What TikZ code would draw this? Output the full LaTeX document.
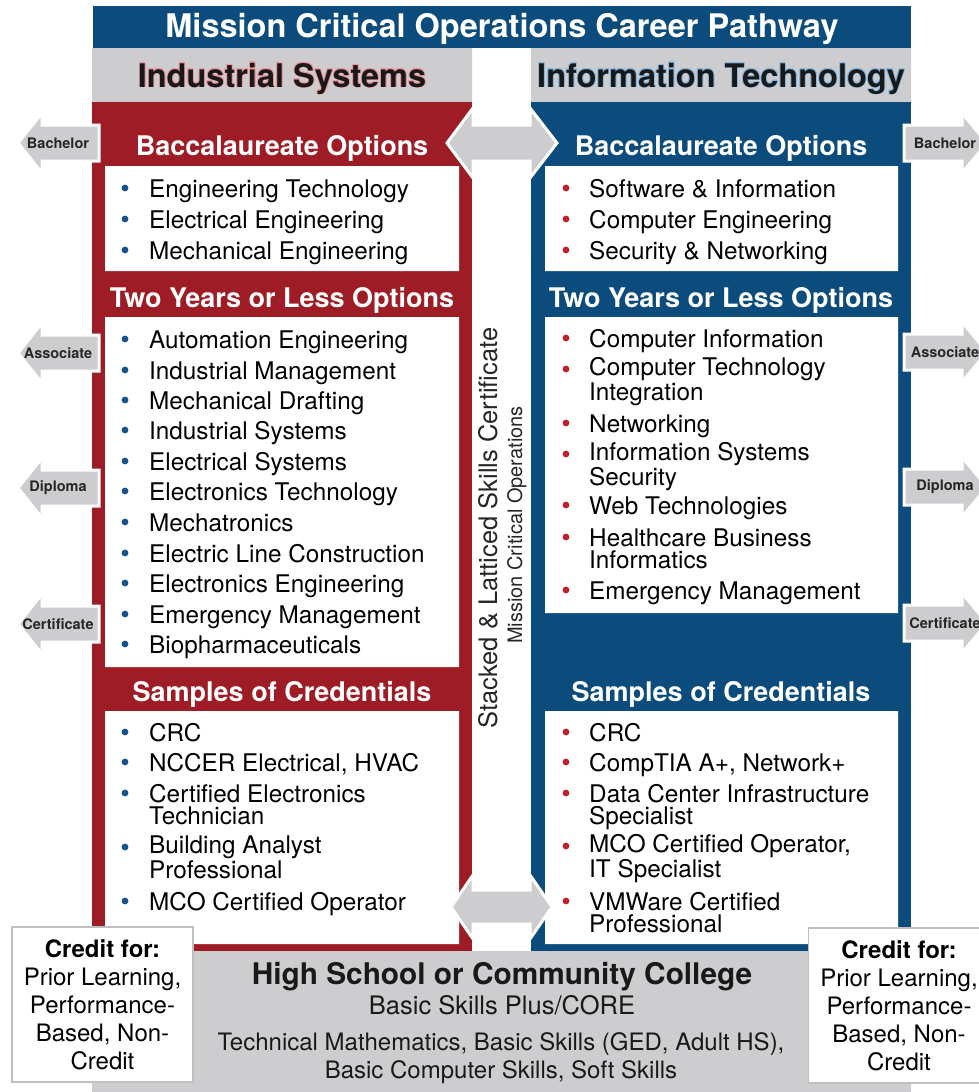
\documentclass[tikz,border=0pt]{standalone}
\usepackage{fontspec}
\setmainfont{TeX Gyre Heros}
\usepackage[copies]{contour}
\contourlength{0.8pt}
\definecolor{mcored}{RGB}{158,28,38}
\definecolor{mcoblue}{RGB}{11,76,124}
\definecolor{mcogray}{RGB}{205,205,208}
\definecolor{dotblue}{RGB}{20,82,140}
\definecolor{dotred}{RGB}{192,32,44}
\definecolor{glowred}{RGB}{236,150,158}
\definecolor{glowblue}{RGB}{135,185,225}
\def\titlebar{(93,6) rectangle (911,48)}
\def\headL{(92,48) rectangle (472,102)}
\def\headR{(531,48) rectangle (911,102)}
\def\panelL{(92,102) rectangle (472,951)}
\def\panelR{(531,102) rectangle (911,951)}
\def\boxLa{(105,166) rectangle (459,271)}
\def\boxLb{(105,317) rectangle (459,667)}
\def\boxLc{(105,711) rectangle (459,944)}
\def\boxRa{(545,166) rectangle (898,271)}
\def\boxRb{(545,317) rectangle (898,613)}
\def\boxRc{(545,711) rectangle (898,944)}
\def\basebox{(92,951) rectangle (911,1092)}
% one-line items: name, baseline, text
\newcommand{\itemL}[3]{\fill[dotblue] (125,#2-9) circle (3.4); \node[listitem] (#1) at (149,#2) {#3};}
\newcommand{\itemR}[3]{\fill[dotred] (566,#2-9) circle (3.4); \node[listitem] (#1) at (589,#2) {#3};}
% two-line items: name, first baseline, line one, line two
\newcommand{\itemLL}[4]{\fill[dotblue] (125,#2-9) circle (3.4); \node[listitem] (#1) at (149,#2+22) {#3\\#4};}
\newcommand{\itemRR}[4]{\fill[dotred] (566,#2-9) circle (3.4); \node[listitem] (#1) at (589,#2+22) {#3\\#4};}
\newcommand{\arrowL}[3]{\draw[sidearrow] (18,#2) -- (42,#2-30) -- (42,#2-18) -- (99,#2-18) -- (99,#2+18) -- (42,#2+18) -- (42,#2+30) -- cycle;
  \node[sidelabel] (#1) at (58,#2) {#3};}
\newcommand{\arrowR}[3]{\draw[sidearrow] (904,#2-18) -- (962,#2-18) -- (962,#2-30) -- (987,#2) -- (962,#2+30) -- (962,#2+18) -- (904,#2+18) -- cycle;
  \node[sidelabel] (#1) at (945,#2) {#3};}
\newcommand{\arrowM}[5]{\draw[sidearrow] (#2,#1) -- (473,#1-#4) -- (473,#1-#5) -- (530,#1-#5) -- (530,#1-#4) -- (#3,#1) -- (530,#1+#4) -- (530,#1+#5) -- (473,#1+#5) -- (473,#1+#4) -- cycle;}

\begin{document}
\begin{tikzpicture}[x=1pt,y=-1pt,
  sidearrow/.style={fill=mcogray, draw=white, line width=3pt},
  sidelabel/.style={font=\bfseries\fontsize{14.5}{16}\selectfont, text=black!85, inner sep=0pt},
  heading/.style={anchor=base, font=\bfseries\fontsize{27}{29}\selectfont, text=white, inner sep=0pt},
  listitem/.style={anchor=base west, align=left, font=\fontsize{24.3}{22}\selectfont, inner sep=0pt},
  bigtext/.style={anchor=base, text=black!90, inner sep=0pt},
  creditbox/.style={fill=white, draw=black!25, line width=1.5pt, align=center,
    minimum width=181pt, minimum height=155pt, font=\fontsize{24}{28}\selectfont}]
\useasboundingbox (0,0) rectangle (979,1092);
% background:
\fill[mcoblue] \titlebar;
\fill[mcogray] \headL \headR \basebox;
\fill[mcored] \panelL;
\fill[mcoblue] \panelR;
\fill[white] \boxLa \boxLb \boxLc \boxRa \boxRb \boxRc;
% titles:
\node[anchor=base, font=\bfseries\fontsize{32.5}{34}\selectfont, text=white, inner sep=0pt] (title) at (502,37) {Mission Critical Operations Career Pathway};
\node[bigtext, font=\bfseries\fontsize{32.5}{34}\selectfont] (indsys) at (282,87) {\contour{glowred}{Industrial Systems}};
\node[bigtext, font=\bfseries\fontsize{32.5}{34}\selectfont] (infotech) at (721,87) {\contour{glowblue}{Information Technology}};
% headings:
\node[heading] (bacL) at (282,155) {Baccalaureate Options};
\node[heading] (twoL) at (282,307) {Two Years or Less Options};
\node[heading] (samL) at (282,701) {Samples of Credentials};
\node[heading] (bacR) at (721,155) {Baccalaureate Options};
\node[heading] (twoR) at (721,307) {Two Years or Less Options};
\node[heading] (samR) at (721,701) {Samples of Credentials};
% industrial systems:
\itemL{engtech}{197}{Engineering Technology}
\itemL{eleceng}{228}{Electrical Engineering}
\itemL{mecheng}{259}{Mechanical Engineering}
\itemL{autoeng}{348}{Automation Engineering}
\itemL{indmgmt}{379}{Industrial Management}
\itemL{mechdraft}{409}{Mechanical Drafting}
\itemL{indsystems}{439}{Industrial Systems}
\itemL{elecsys}{470}{Electrical Systems}
\itemL{electech}{500}{Electronics Technology}
\itemL{mechatr}{531}{Mechatronics}
\itemL{elecline}{562}{Electric Line Construction}
\itemL{electeng}{592}{Electronics Engineering}
\itemL{emergL}{623}{Emergency Management}
\itemL{biopharm}{653}{Biopharmaceuticals}
\itemL{crcL}{741}{CRC}
\itemL{nccer}{771}{NCCER Electrical, HVAC}
\itemLL{certelec}{802}{Certified Electronics}{Technician}
\itemLL{building}{856}{Building Analyst}{Professional}
\itemL{mcoL}{910}{MCO Certified Operator}
% information technology:
\itemR{software}{197}{Software \& Information}
\itemR{compeng}{228}{Computer Engineering}
\itemR{secnet}{259}{Security \& Networking}
\itemR{compinfo}{347}{Computer Information}
\itemRR{comptech}{378}{Computer Technology}{Integration}
\itemR{networking}{432}{Networking}
\itemRR{infosec}{463}{Information Systems}{Security}
\itemR{webtech}{514}{Web Technologies}
\itemRR{health}{546}{Healthcare Business}{Informatics}
\itemR{emergR}{599}{Emergency Management}
\itemR{crcR}{741}{CRC}
\itemR{comptia}{771}{CompTIA A+, Network+}
\itemRR{datacenter}{802}{Data Center Infrastructure}{Specialist}
\itemRR{mcoR}{855}{MCO Certified Operator,}{IT Specialist}
\itemRR{vmware}{910}{VMWare Certified}{Professional}
% middle:
\node[rotate=90, anchor=base, font=\fontsize{25.5}{27}\selectfont, text=black!85, inner sep=0pt] (stacked) at (497,528) {Stacked \& Latticed Skills Certificate};
\node[rotate=90, anchor=base, font=\fontsize{20}{22}\selectfont, text=black!85, inner sep=0pt] (mcoline) at (522,525) {Mission Critical Operations};
\arrowM{143}{447}{557}{35}{18}
\arrowM{907}{451}{552}{32}{17}
% side arrows:
\arrowL{bachL}{143}{Bachelor}
\arrowL{assocL}{353}{Associate}
\arrowL{diplL}{488}{Diploma}
\arrowL{certL}{624}{Certificate}
\arrowR{bachR}{143}{Bachelor}
\arrowR{assocR}{352}{Associate}
\arrowR{diplR}{487}{Diploma}
\arrowR{certR}{623}{Certificate}
% base:
\node[bigtext, font=\bfseries\fontsize{29.8}{31}\selectfont] (highschool) at (502,984) {High School or Community College};
\node[bigtext, font=\fontsize{25.5}{27}\selectfont] (basic) at (502,1014) {Basic Skills Plus/CORE};
\node[bigtext, font=\fontsize{24}{28}\selectfont, align=center] (techmath) at (501,1078) {Technical Mathematics, Basic Skills (GED, Adult HS),\\Basic Computer Skills, Soft Skills};
% credit boxes:
\node[creditbox] (creditL) at (102.5,1004.5) {\textbf{Credit for:}\\Prior Learning,\\Performance-\\Based, Non-\\Credit};
\node[creditbox] (creditR) at (899,1005.5) {\textbf{Credit for:}\\Prior Learning,\\Performance-\\Based, Non-\\Credit};
\end{tikzpicture}
\end{document}
